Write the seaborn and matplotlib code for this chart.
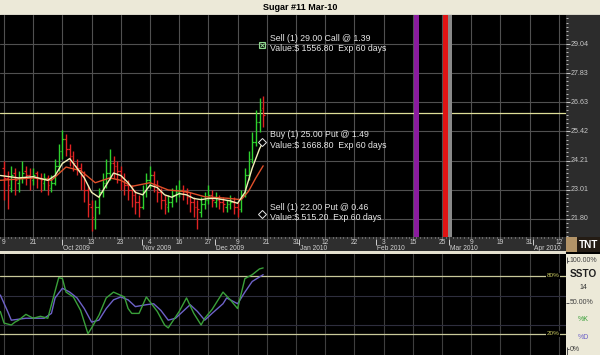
import numpy as np
import pandas as pd
import matplotlib
matplotlib.use("Agg")
import matplotlib.pyplot as plt
import seaborn as sns

# ---------------- data ----------------
title = "Sugar #11 Mar-10"
bar_idx = list(range(72))
opens = [23.9, 23.5, 23.1, 23.7, 23.3, 23.5, 23.8, 23.6, 23.4, 23.7,
         23.5, 23.3, 23.5, 23.1, 23.3, 24.0, 24.6, 25.1, 24.7, 24.4,
         24.0, 23.9, 23.6, 23.0, 22.3, 21.8, 22.3, 22.9, 23.3, 23.7,
         24.1, 24.0, 23.8, 23.5, 23.2, 23.0, 22.8, 22.5, 22.3, 22.9,
         23.4, 23.6, 23.2, 22.9, 22.6, 22.3, 22.5, 22.8, 22.9, 23.0,
         22.9, 22.7, 22.5, 22.3, 22.1, 22.4, 22.6, 22.8, 22.5, 22.6,
         22.5, 22.3, 22.4, 22.5, 22.3, 22.2, 22.8, 23.6, 24.3, 25.0,
         25.8, 26.4]
highs = [24.2, 23.8, 24.0, 23.9, 23.8, 24.2, 24.0, 23.9, 23.9, 23.8,
         23.7, 23.7, 23.6, 23.6, 24.3, 24.9, 25.5, 25.3, 24.9, 24.6,
         24.3, 24.1, 23.8, 23.2, 22.6, 22.6, 23.1, 23.7, 24.3, 24.7,
         24.4, 24.2, 24.0, 23.7, 23.4, 23.2, 23.0, 22.8, 23.2, 23.7,
         24.0, 23.8, 23.4, 23.1, 22.8, 22.8, 23.1, 23.2, 23.4, 23.2,
         23.1, 22.9, 22.7, 22.6, 22.7, 22.9, 23.2, 23.0, 22.9, 22.8,
         22.7, 22.6, 22.8, 22.7, 22.5, 23.0, 23.9, 24.6, 25.4, 26.3,
         26.8, 26.9]
lows = [22.6, 22.2, 22.9, 22.8, 22.9, 23.3, 23.2, 23.0, 23.2, 23.1,
        22.9, 23.0, 22.8, 22.9, 23.2, 23.8, 24.3, 24.4, 24.0, 23.8,
        23.6, 23.0, 22.5, 21.9, 21.3, 21.4, 22.0, 22.7, 23.1, 23.4,
        23.5, 23.3, 23.0, 22.8, 22.6, 22.3, 22.0, 21.9, 22.2, 22.7,
        23.1, 22.9, 22.5, 22.2, 22.0, 22.1, 22.3, 22.5, 22.7, 22.6,
        22.4, 22.1, 21.9, 21.4, 21.9, 22.2, 22.4, 22.3, 22.3, 22.2,
        22.1, 22.1, 22.2, 22.0, 21.9, 22.1, 22.7, 23.4, 24.1, 24.8,
        25.4, 25.6]
closes = [23.5, 23.2, 23.6, 23.4, 23.5, 23.7, 23.6, 23.5, 23.6, 23.5,
          23.4, 23.5, 23.2, 23.3, 24.0, 24.6, 25.1, 24.7, 24.4, 24.1,
          23.9, 23.6, 23.0, 22.4, 21.9, 22.3, 22.9, 23.3, 23.7, 24.1,
          24.0, 23.8, 23.5, 23.2, 23.0, 22.8, 22.5, 22.3, 22.9, 23.4,
          23.6, 23.2, 22.9, 22.6, 22.4, 22.5, 22.8, 22.9, 23.0, 22.9,
          22.7, 22.5, 22.3, 22.2, 22.4, 22.6, 22.8, 22.6, 22.6, 22.5,
          22.4, 22.4, 22.5, 22.3, 22.2, 22.8, 23.6, 24.3, 25.0, 25.8,
          26.3, 26.1]

fast_idx = [-1, 4, 8, 12, 14, 16, 18, 20, 22, 24, 26, 28, 30, 32, 34, 36, 38,
            40, 42, 44, 46, 48, 50, 52, 54, 56, 58, 60, 62, 64, 66, 68, 70, 71]
fast_ma = [23.6, 23.5, 23.55, 23.4, 23.6, 24.1, 24.3, 23.9, 23.5, 22.9, 22.7,
           23.2, 23.7, 23.6, 23.3, 22.9, 22.8, 23.2, 23.1, 22.8, 22.7, 22.85,
           22.8, 22.65, 22.6, 22.65, 22.65, 22.6, 22.55, 22.45, 22.9, 23.9,
           24.7, 25.0]
slow_idx = [-1, 8, 13, 17, 21, 25, 29, 32, 35, 40, 45, 50, 55, 61, 65, 67, 69, 71]
slow_ma = [23.4, 23.5, 23.4, 23.95, 23.8, 23.3, 23.5, 23.4, 23.15, 23.3, 23.0,
           22.93, 22.72, 22.66, 22.6, 22.95, 23.5, 24.0]

price_ticks = [29.04, 27.83, 26.63, 25.42, 24.21, 23.01, 21.80]
ref_price = 26.2

grid_idx = list(range(0, 153, 8))
day_labels = ["9", "21", "", "13", "23", "4", "16", "27", "9", "21", "31",
              "12", "22", "3", "15", "25", "9", "19", "31", "12"]
month_idx = [16, 38, 58, 81, 102, 122, 145]
month_labels = ["Oct 2009", "Nov 2009", "Dec 2009", "Jan 2010",
                "Feb 2010", "Mar 2010", "Apr 2010"]

event_idx = [113, 121, 122.2]
event_colors = ["#8a1c9e", "#e01414", "#8a8a8a"]

trade_idx = 70.8
trade_strikes = [29.00, 25.00, 22.00]
trade_line1 = ["Sell (1) 29.00 Call @ 1.39", "Buy (1) 25.00 Put @ 1.49",
               "Sell (1) 22.00 Put @ 0.46"]
trade_line2 = ["Value:$ 1556.80  Exp 60 days", "Value:$ 1668.80  Exp 60 days",
               "Value:$ 515.20  Exp 60 days"]

k_idx = [-1, 0, 2, 3, 4, 6, 8, 10, 12, 13, 15, 16, 17, 19, 21, 23, 24, 26, 28,
         30, 33, 34, 35, 37, 39, 42, 44, 45, 48, 50, 52, 54, 55, 57, 60, 62, 64,
         66, 68, 70, 71]
k_vals = [43, 31, 29, 32, 34, 40, 36, 38, 36, 50, 78, 77, 63, 58, 44, 20, 26,
          39, 57, 63, 58, 46, 41, 41, 58, 43, 29, 26, 43, 57, 41, 29, 36, 45,
          63, 55, 46, 77, 81, 87, 88]
d_idx = [-1, 1, 2, 6, 11, 13, 14, 16, 18, 20, 22, 24, 26, 28, 30, 32, 34, 36,
         39, 41, 43, 45, 47, 49, 51, 53, 55, 57, 60, 61, 64, 66, 68, 71]
d_vals = [60, 43, 34, 36, 36, 41, 57, 67, 63, 57, 46, 32, 34, 46, 55, 58, 55,
          48, 50, 51, 44, 34, 36, 43, 50, 43, 34, 41, 51, 57, 51, 63, 74, 81]
osc_levels = [80, 20]
osc_level_labels = ["80%", "20%"]
osc_grid = [59, 29]

# ---------------- style ----------------
sns.set_style("dark", {"axes.facecolor": "black"})
plt.rcParams["font.family"] = ["Liberation Sans", "DejaVu Sans"]

W, H = 600, 355
fig = plt.figure(figsize=(6, 3.55), dpi=100)
fig.patch.set_facecolor("black")


def box(x0, y0, x1, y1):
    return [x0 / W, 1 - y1 / H, (x1 - x0) / W, (y1 - y0) / H]


def clean(a, fc):
    a.set_facecolor(fc)
    a.set_xticks([])
    a.set_yticks([])
    for s in a.spines.values():
        s.set_visible(False)


XL = (-4 / 3.65, 562 / 3.65)
GREEN, RED = "#2ed12e", "#e02323"
GRID = "#505050"
BEIGE = "#ece9d8"

# title bar
ax_t = fig.add_axes(box(0, 0, 600, 15))
clean(ax_t, BEIGE)
ax_t.set_xlim(0, 1); ax_t.set_ylim(0, 1)
ax_t.axhline(0.03, color="#8c8c8c", lw=1.0)
ax_t.text(0.5, 0.5, title, ha="center", va="center", fontsize=6.5,
          fontweight="bold", family=["Liberation Sans Narrow", "Liberation Sans"],
          color="black")

# main price axes
ax = fig.add_axes(box(0, 15, 566, 237))
clean(ax, "black")
ax.set_xlim(*XL)
ax.set_ylim(21.055, 30.24)
for g in grid_idx:
    ax.axvline(g, color=GRID, lw=0.8, zorder=0)
for p in price_ticks:
    ax.axhline(p, color=GRID, lw=0.8, zorder=0)
ax.axhline(ref_price, color="#dede98", lw=0.9, zorder=1)
for e, col in zip(event_idx, event_colors):
    w = 0.7 if col != "#8a8a8a" else 0.55
    ax.axvspan(e - w, e + w, color=col, lw=0, zorder=1)

x = np.array(bar_idx, dtype=float)
o, h, l, c = map(np.array, (opens, highs, lows, closes))
cols = np.where(c >= o, GREEN, RED)
ax.vlines(x, l, h, colors=cols, lw=1.0, zorder=3)
ax.hlines(o, x - 0.45, x, colors=cols, lw=0.9, zorder=3)
ax.hlines(c, x, x + 0.45, colors=cols, lw=0.9, zorder=3)

sns.lineplot(x=slow_idx, y=slow_ma, ax=ax, color="#e0502a", lw=1.0, zorder=4,
             legend=False)
sns.lineplot(x=fast_idx, y=fast_ma, ax=ax, color="#f2f0b8", lw=1.0, zorder=5,
             legend=False)
ax.set_xlabel(""); ax.set_ylabel("")
ax.set_xlim(*XL)

for i, (s, t1, t2) in enumerate(zip(trade_strikes, trade_line1, trade_line2)):
    if i == 0:
        ax.plot(trade_idx, s, marker="s", ms=5, mfc="none", mec="#8fd88f",
                mew=0.8, zorder=6)
        ax.plot(trade_idx, s, marker="x", ms=3.5, mec="#8fd88f", mew=0.7,
                zorder=6)
    else:
        ax.plot(trade_idx, s, marker="D", ms=3.6, mfc="black", mec="#e8e8e8",
                mew=0.7, zorder=6)
    ax.text(trade_idx + 2.1, s + 0.07, t1 + "\n" + t2, color="#e6e6e6",
            fontsize=6.3, va="center", ha="left", linespacing=1.2, zorder=7)

# right price scale
ax_r = fig.add_axes(box(566, 15, 600, 237))
clean(ax_r, "#2c2c2c")
ax_r.set_xlim(0, 34)
ax_r.set_ylim(21.055, 30.24)
step = (price_ticks[0] - price_ticks[1]) / 7
minor = np.arange(price_ticks[-1] - 8 * step, 30.3, step)
ax_r.hlines(minor, 0, 1.6, color="#c0c0c0", lw=0.7)
for p in price_ticks:
    ax_r.hlines(p, 0, 4, color="#c8c8c8", lw=0.7)
    ax_r.text(4.3, p, f"{p:.2f}", color="#c8c8c8", fontsize=5.1, va="center",
              ha="left")

# date strip
ax_d = fig.add_axes(box(0, 237, 566, 251))
clean(ax_d, "#2e2e2e")
ax_d.set_xlim(*XL)
ax_d.set_ylim(0, 14)
ax_d.vlines(np.arange(-1, 154), 12.6, 14, color="#bdbdbd", lw=0.6)
for g, lab in zip(grid_idx, day_labels):
    if lab:
        ax_d.text(g, 8.8, lab, color="#d0d0d0", fontsize=4.8, ha="center",
                  va="center")
for m, lab in zip(month_idx, month_labels):
    ax_d.vlines(m - 0.2, 6.5, 12.5, color="#d0d0d0", lw=0.7)
    ax_d.text(m + 0.1, 3.0, lab, color="#d0d0d0", fontsize=4.8, ha="left",
              va="center")

# logo
ax_logo = fig.add_axes(box(566, 237, 600, 252))
clean(ax_logo, "#241c14")
ax_logo.set_xlim(0, 34); ax_logo.set_ylim(0, 15)
ax_logo.axvspan(0, 11, color="#b39468", lw=0)
ax_logo.text(22.5, 7.5, "TNT", color="white", fontsize=7.2, fontweight="bold",
             ha="center", va="center")

# separator
ax_sep = fig.add_axes(box(0, 251, 566, 254))
clean(ax_sep, "#e4e0cf")

# oscillator
ax_o = fig.add_axes(box(0, 254, 566, 355))
clean(ax_o, "black")
ax_o.set_xlim(*XL)
ax_o.set_ylim(-2.0, 102.4)
for g in grid_idx:
    ax_o.axvline(g, color="#3e3e3e", lw=0.8, zorder=0)
for gy in osc_grid:
    ax_o.axhline(gy, color="#2e2e3e", lw=0.8, zorder=0)
for lv, lab in zip(osc_levels, osc_level_labels):
    ax_o.axhline(lv, color="#c9c99a", lw=0.9, zorder=1)
    ax_o.text(150.4, lv, lab, color="#c8c860", fontsize=4.6, ha="center",
              va="center", zorder=2,
              bbox=dict(fc="black", ec="none", pad=0.4))
sns.lineplot(x=d_idx, y=d_vals, ax=ax_o, color="#6e62c8", lw=1.0, zorder=3,
             legend=False)
sns.lineplot(x=k_idx, y=k_vals, ax=ax_o, color="#3aa03a", lw=1.0, zorder=4,
             legend=False)
ax_o.set_xlabel(""); ax_o.set_ylabel("")
ax_o.set_xlim(*XL)

# oscillator side panel
ax_or = fig.add_axes(box(566, 254, 600, 355))
clean(ax_or, BEIGE)
ax_or.set_xlim(0, 34)
ax_or.set_ylim(-2.0, 102.4)
ax_or.vlines(1.0, 93, 99, color="#505050", lw=0.7)
ax_or.hlines(95.5, 1.0, 3.0, color="#505050", lw=0.7)
ax_or.text(3.3, 95.5, "100.00%", color="#404040", fontsize=5.0, va="center")
ax_or.text(17.5, 81.5, "SSTO", color="#202020", fontsize=7.2, va="center",
           ha="center", fontweight="bold",
           family=["Liberation Sans Narrow", "Liberation Sans"])
ax_or.text(17.5, 67.3, "14", color="#303030", fontsize=5.0, va="center",
           ha="center")
ax_or.hlines(51.8, 0, 3.0, color="#505050", lw=0.7)
ax_or.text(3.3, 51.8, "50.00%", color="#404040", fontsize=5.0, va="center")
ax_or.text(17.5, 35.2, "%K", color="#3aa03a", fontsize=5.0, va="center",
           ha="center")
ax_or.text(17.5, 15.6, "%D", color="#6e62c8", fontsize=5.0, va="center",
           ha="center")
ax_or.vlines(1.0, -2, 6, color="#505050", lw=0.7)
ax_or.hlines(4.2, 1.0, 3.0, color="#505050", lw=0.7)
ax_or.text(3.3, 4.2, "0%", color="#404040", fontsize=5.0, va="center")

fig.savefig("out.png", dpi=100, facecolor=fig.get_facecolor())
